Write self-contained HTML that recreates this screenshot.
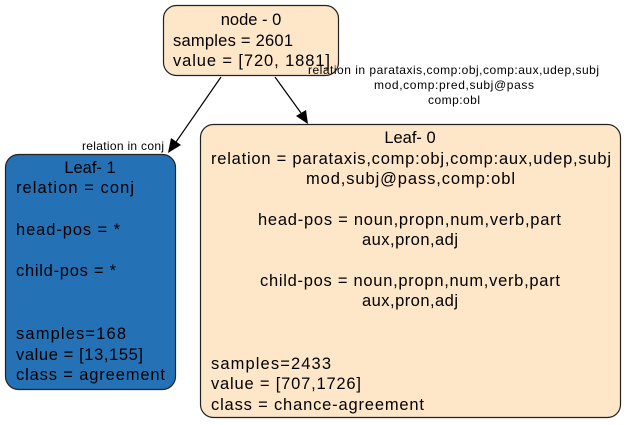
<!DOCTYPE html>
<html><head><style>body{margin:0;background:#fff}svg{display:block}text{font-family:"Liberation Sans",Arial,sans-serif;fill:#000}</style></head>
<body>
<svg width="627" height="425" viewBox="0 0 627 425" xmlns="http://www.w3.org/2000/svg">
<rect x="163.5" y="5.5" width="175" height="70" rx="13" fill="#fee6c9" stroke="#222" stroke-width="1.2"/>
<text x="251" y="25" font-size="16.5" text-anchor="middle">node - 0</text>
<text x="173" y="46" font-size="16.5" textLength="120">samples = 2601</text>
<text x="173" y="66" font-size="16.5" textLength="157">value = [720, 1881]</text>

<line x1="221" y1="77" x2="176" y2="142" stroke="#000" stroke-width="1.2"/>
<polygon points="168,153 171,138 181,145" fill="#000"/>
<text x="164" y="150" font-size="12" text-anchor="end" textLength="82">relation in conj</text>

<line x1="275" y1="77" x2="301" y2="113" stroke="#000" stroke-width="1.2"/>
<polygon points="308,124 296,116 306,110" fill="#000"/>
<text x="308" y="74" font-size="12" textLength="291">relation in parataxis,comp:obj,comp:aux,udep,subj</text>
<text x="374" y="89" font-size="12" textLength="160">mod,comp:pred,subj@pass</text>
<text x="428" y="104" font-size="12" textLength="52">comp:obl</text>

<rect x="5.5" y="154.5" width="170" height="235" rx="13" fill="#2471b5" stroke="#222" stroke-width="1.2"/>
<text x="90" y="173" font-size="16.5" text-anchor="middle">Leaf- 1</text>
<text x="16" y="193" font-size="16.5" textLength="118">relation = conj</text>
<text x="16" y="235" font-size="16.5" textLength="104">head-pos = *</text>
<text x="16" y="276" font-size="16.5" textLength="100">child-pos = *</text>
<text x="16" y="339" font-size="16.5" textLength="110">samples=168</text>
<text x="16" y="360" font-size="16.5" textLength="127">value = [13,155]</text>
<text x="16" y="380" font-size="16.5" textLength="149">class = agreement</text>

<rect x="200.5" y="124.5" width="420" height="293" rx="13" fill="#fee6c9" stroke="#222" stroke-width="1.2"/>
<text x="410" y="143" font-size="16.5" text-anchor="middle">Leaf- 0</text>
<text x="211" y="164" font-size="16.5" textLength="400">relation = parataxis,comp:obj,comp:aux,udep,subj</text>
<text x="306" y="184" font-size="16.5" textLength="209">mod,subj@pass,comp:obl</text>
<text x="258" y="225" font-size="16.5" textLength="303">head-pos = noun,propn,num,verb,part</text>
<text x="362" y="245" font-size="16.5" textLength="96">aux,pron,adj</text>
<text x="260" y="286" font-size="16.5" textLength="300">child-pos = noun,propn,num,verb,part</text>
<text x="362" y="306" font-size="16.5" textLength="96">aux,pron,adj</text>
<text x="211" y="369" font-size="16.5" textLength="120">samples=2433</text>
<text x="211" y="389" font-size="16.5" textLength="150">value = [707,1726]</text>
<text x="211" y="410" font-size="16.5" textLength="213">class = chance-agreement</text>
</svg>
</body></html>
